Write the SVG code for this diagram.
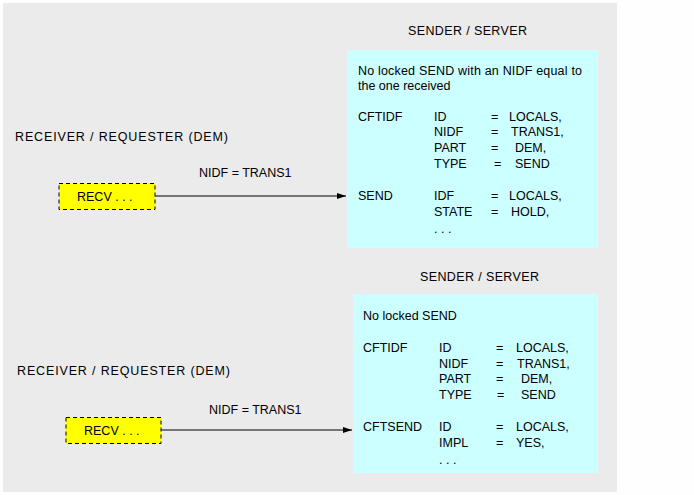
<svg xmlns="http://www.w3.org/2000/svg" width="694" height="495" viewBox="0 0 694 495">
<style>
text{font-family:"Liberation Sans",Arial,sans-serif;font-size:12.5px;fill:#000}
.recv{fill:#ffff00;stroke:#000;stroke-width:1;stroke-dasharray:4,3}
.srv{fill:#ccffff}
.conn{stroke:#000;stroke-width:1;fill:none}
</style>
<defs>
<marker id="ah" markerWidth="9" markerHeight="6" refX="9" refY="3" orient="auto" markerUnits="userSpaceOnUse">
<path d="M0,0 L9,3 L0,6 z" fill="#000"/>
</marker>
</defs>
<rect x="0" y="0" width="694" height="495" fill="#fefefe"/>
<rect x="3" y="3" width="614" height="489" fill="#ebebeb"/>

<g id="labels">
<text x="408" y="35" textLength="119">SENDER / SERVER</text>
<text x="15" y="141" textLength="213">RECEIVER / REQUESTER (DEM)</text>
<text x="420" y="281" textLength="119">SENDER / SERVER</text>
<text x="17" y="375" textLength="213">RECEIVER / REQUESTER (DEM)</text>
</g>

<g id="server1">
<rect class="srv" x="347" y="50" width="251" height="198"/>
<text x="358" y="75" textLength="224">No locked SEND with an NIDF equal to</text>
<text x="358" y="90">the one received</text>
<text x="358" y="121">CFTIDF</text>
<text x="434" y="121">ID</text><text x="491" y="121">=</text><text x="509" y="121">LOCALS,</text>
<text x="434" y="136">NIDF</text><text x="491" y="136">=</text><text x="511" y="136">TRANS1,</text>
<text x="434" y="152">PART</text><text x="491" y="152">=</text><text x="515" y="152">DEM,</text>
<text x="434" y="168">TYPE</text><text x="494" y="168">=</text><text x="515" y="168">SEND</text>
<text x="358" y="200">SEND</text>
<text x="434" y="200">IDF</text><text x="491" y="200">=</text><text x="509" y="200">LOCALS,</text>
<text x="434" y="216">STATE</text><text x="491" y="216">=</text><text x="511" y="216">HOLD,</text>
<text x="434" y="233">. . .</text>
</g>

<g id="server2">
<rect class="srv" x="353" y="294" width="245" height="179"/>
<text x="363" y="320">No locked SEND</text>
<text x="363" y="352">CFTIDF</text>
<text x="439" y="352">ID</text><text x="496" y="352">=</text><text x="516" y="352">LOCALS,</text>
<text x="439" y="368">NIDF</text><text x="496" y="368">=</text><text x="517" y="368">TRANS1,</text>
<text x="439" y="383">PART</text><text x="496" y="383">=</text><text x="521" y="383">DEM,</text>
<text x="439" y="399">TYPE</text><text x="497" y="399">=</text><text x="521" y="399">SEND</text>
<text x="363" y="431">CFTSEND</text>
<text x="439" y="431">ID</text><text x="496" y="431">=</text><text x="516" y="431">LOCALS,</text>
<text x="439" y="447">IMPL</text><text x="496" y="447">=</text><text x="516" y="447">YES,</text>
<text x="439" y="464">. . .</text>
</g>

<g id="recv1">
<rect class="recv" x="59" y="183.5" width="96" height="26"/>
<text x="77" y="201">RECV . . .</text>
</g>

<g id="recv2">
<rect class="recv" x="66" y="417.5" width="95" height="26"/>
<text x="84" y="435">RECV . . .</text>
</g>

<g id="connectors">
<line class="conn" x1="155" y1="196" x2="346" y2="196" marker-end="url(#ah)"/>
<text x="199" y="177">NIDF = TRANS1</text>
<line class="conn" x1="161" y1="430" x2="352" y2="430" marker-end="url(#ah)"/>
<text x="209" y="414">NIDF = TRANS1</text>
</g>
</svg>
